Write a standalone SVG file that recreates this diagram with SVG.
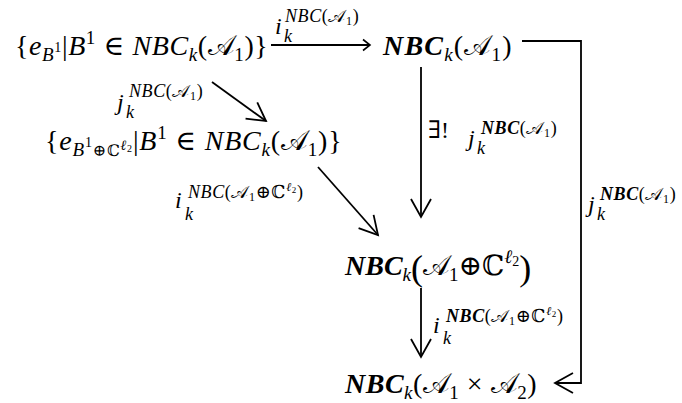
<svg xmlns="http://www.w3.org/2000/svg" width="682" height="403" viewBox="0 0 682 403">
<style>
text{font-family:"Liberation Serif","DejaVu Serif",serif;font-size:28px;fill:#000}
.it{font-style:italic}
.bi{font-style:italic;font-weight:bold}
.s{font-size:19px}
.ss{font-size:14px}
.lab{font-size:24px}
.ls{font-size:18px;letter-spacing:0.6px}
.lss{font-size:12px}
.big{font-size:36px}
.cn{fill:none;stroke:#000;stroke-width:1.8}
</style>
<defs>
<marker id="ah" markerWidth="24" markerHeight="24" refX="20" refY="12" orient="auto" markerUnits="userSpaceOnUse" viewBox="0 0 24 24"><path d="M2,2 L20,12 L2,22" fill="none" stroke="#000" stroke-width="1.8"/></marker>
<marker id="sm" markerWidth="12" markerHeight="14" refX="9" refY="7" orient="auto" markerUnits="userSpaceOnUse" viewBox="0 0 12 14"><path d="M2,1.5 L9,7 L2,12.5" fill="none" stroke="#000" stroke-width="1.6"/></marker>
</defs>

<g id="connectors">
<line class="cn" x1="271" y1="45" x2="370" y2="45" marker-end="url(#sm)"/>
<line class="cn" x1="212" y1="82" x2="266" y2="121" marker-end="url(#ah)"/>
<line class="cn" x1="421" y1="67" x2="421" y2="217" marker-end="url(#ah)"/>
<line class="cn" x1="318" y1="167" x2="378" y2="235" marker-end="url(#ah)"/>
<line class="cn" x1="421" y1="288" x2="421" y2="357" marker-end="url(#ah)"/>
<polyline class="cn" points="522,41 581,41 581,383 555,383" marker-end="url(#ah)"/>
<g id="labels">
<text class="lab" x="275" y="34"><tspan class="it">i</tspan><tspan class="it ls" x="284" y="42">k</tspan><tspan class="ls" x="285" y="22"><tspan class="it">NBC</tspan>(𝒜<tspan class="lss" y="25">1</tspan><tspan y="22">)</tspan></tspan></text>
<text class="lab" x="117" y="110"><tspan class="it">j</tspan><tspan class="it ls" x="126" y="118">k</tspan><tspan class="ls" x="129" y="97"><tspan class="it">NBC</tspan>(𝒜<tspan class="lss" y="100">1</tspan><tspan y="97">)</tspan></tspan></text>
<text class="lab" x="175" y="208"><tspan class="it">i</tspan><tspan class="it ls" x="185" y="220">k</tspan><tspan class="ls" x="188" y="198"><tspan class="it">NBC</tspan>(𝒜<tspan class="lss" y="201">1</tspan><tspan y="198">⊕ℂ</tspan><tspan class="lss it" y="191">ℓ</tspan><tspan class="lss" y="193" style="font-size:9px">2</tspan><tspan y="198">)</tspan></tspan></text>
<text class="lab" x="428" y="138">∃!<tspan class="it" x="468" y="146">j</tspan><tspan class="it ls" x="477" y="154">k</tspan><tspan class="ls" x="481" y="134"><tspan class="bi">NBC</tspan>(𝒜<tspan class="lss" y="137">1</tspan><tspan y="134">)</tspan></tspan></text>
<text class="lab" x="588" y="212"><tspan class="it">j</tspan><tspan class="it ls" x="597" y="220">k</tspan><tspan class="ls" x="600" y="200"><tspan class="bi">NBC</tspan>(𝒜<tspan class="lss" y="203">1</tspan><tspan y="200">)</tspan></tspan></text>
<text class="lab" x="433" y="333"><tspan class="it">i</tspan><tspan class="it ls" x="443" y="344">k</tspan><tspan class="ls" x="446" y="322"><tspan class="bi">NBC</tspan>(𝒜<tspan class="lss" y="325">1</tspan><tspan y="322">⊕ℂ</tspan><tspan class="lss it" y="315">ℓ</tspan><tspan class="lss" y="317" style="font-size:9px">2</tspan><tspan y="322">)</tspan></tspan></text>
</g>
</g>

<g id="n1"><text x="15" y="55" style="letter-spacing:0.6px">{<tspan class="it">e</tspan><tspan class="it s" y="61">B</tspan><tspan class="ss" y="52">1</tspan><tspan y="55">|</tspan><tspan class="it">B</tspan><tspan class="s" y="44">1</tspan><tspan y="55"> ∈ </tspan><tspan class="it">NBC</tspan><tspan class="it s" y="61">k</tspan><tspan y="55">(𝒜</tspan><tspan class="s" y="61">1</tspan><tspan y="55">)}</tspan></text></g>

<g id="n2"><text x="383" y="55" style="letter-spacing:1.2px"><tspan class="bi">NBC</tspan><tspan class="it s" y="61">k</tspan><tspan y="55">(𝒜</tspan><tspan class="s" y="61">1</tspan><tspan y="55">)</tspan></text></g>

<g id="n3"><text x="45" y="150" style="letter-spacing:0.8px">{<tspan class="it">e</tspan><tspan class="it s" y="156">B</tspan><tspan class="ss" y="147">1</tspan><tspan class="ss" y="156" style="font-size:16px">⊕ℂ</tspan><tspan class="ss it" y="150">ℓ</tspan><tspan style="font-size:10px" y="152">2</tspan><tspan y="150">|</tspan><tspan class="it">B</tspan><tspan class="s" y="139">1</tspan><tspan y="150"> ∈ </tspan><tspan class="it">NBC</tspan><tspan class="it s" y="156">k</tspan><tspan y="150">(𝒜</tspan><tspan class="s" y="156">1</tspan><tspan y="150">)}</tspan></text></g>

<g id="n4"><text x="345" y="275"><tspan class="bi">NBC</tspan><tspan class="it s" y="281">k</tspan><tspan class="big" y="280">(</tspan><tspan y="275">𝒜</tspan><tspan class="s" y="281">1</tspan><tspan y="275">⊕ℂ</tspan><tspan class="s it" y="263">ℓ</tspan><tspan class="ss" y="266">2</tspan><tspan class="big" y="280">)</tspan></text></g>

<g id="n5"><text x="345" y="393" style="letter-spacing:0.5px"><tspan class="bi">NBC</tspan><tspan class="it s" y="399">k</tspan><tspan y="393">(𝒜</tspan><tspan class="s" y="399">1</tspan><tspan y="393"> × 𝒜</tspan><tspan class="s" y="399">2</tspan><tspan y="393">)</tspan></text></g>
</svg>
